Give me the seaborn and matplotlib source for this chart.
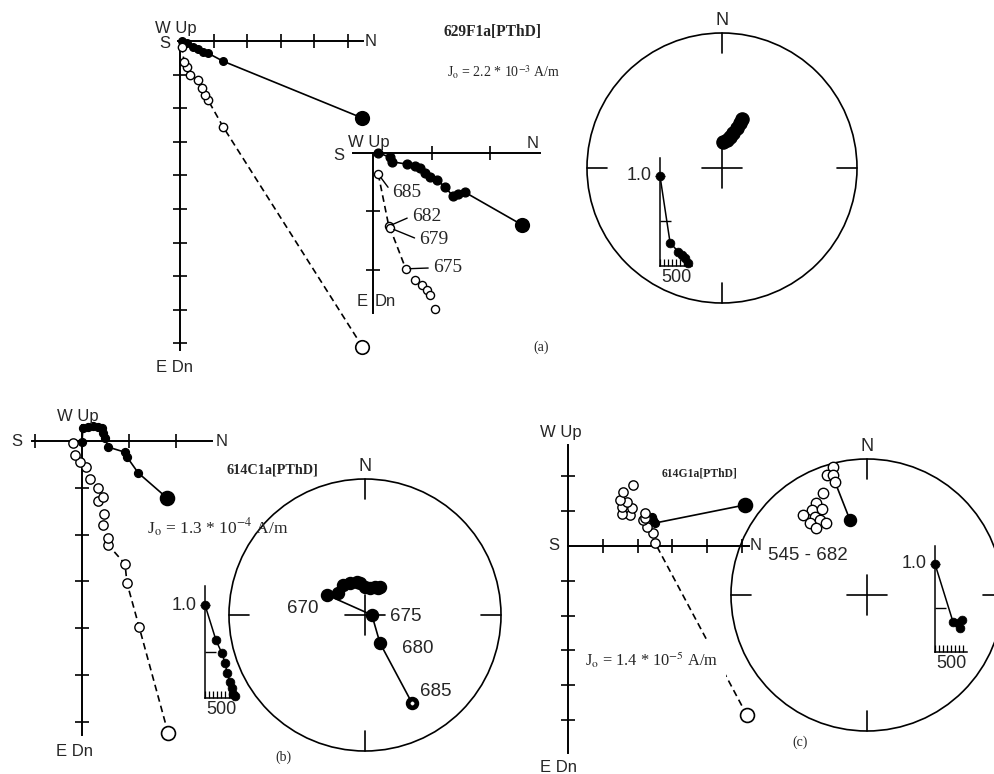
import numpy as np
import matplotlib
matplotlib.use("Agg")
import matplotlib.pyplot as plt
from matplotlib.patches import Circle
import seaborn as sns

# ---------------------------------------------------------------------------
# Orthogonal (Zijderveld) projections, in units of one axis tick.
# Horizontal plane: north vs east (solid symbols);
# vertical plane: north vs down (open symbols). Lists start at the NRM step.
# ---------------------------------------------------------------------------

# (a) 629F1a - full demagnetisation path
a_north_h = [5.42, 1.28, 0.83, 0.68, 0.54, 0.39, 0.20, 0.06]
a_east_h = [2.29, 0.60, 0.36, 0.33, 0.24, 0.18, 0.06, 0.00]
a_north_v = [5.43, 1.28, 0.83, 0.74, 0.65, 0.53, 0.30, 0.20, 0.12, 0.06]
a_down_v = [9.10, 2.55, 1.75, 1.60, 1.40, 1.16, 1.00, 0.77, 0.62, 0.18]

# (a) enlarged high-temperature part
a2_north_h = [2.55, 1.57, 1.45, 1.37, 1.23, 1.09, 0.97, 0.89, 0.80, 0.72, 0.58, 0.32, 0.29, 0.09]
a2_east_h = [1.23, 0.67, 0.70, 0.74, 0.58, 0.46, 0.41, 0.34, 0.26, 0.22, 0.19, 0.15, 0.07, 0.00]
a2_north_v = [0.09, 0.27, 0.29, 0.56, 0.72, 0.84, 0.92, 0.97, 1.06]
a2_down_v = [0.36, 1.25, 1.28, 1.98, 2.17, 2.26, 2.34, 2.43, 2.67]
a2_steps = ["685", "682", "679", "675"]

# (b) 614C1a
b_north_h = [1.82, 1.20, 0.96, 0.92, 0.56, 0.49, 0.45, 0.43, 0.34, 0.24, 0.13, 0.02, 0.00]
b_east_h = [1.22, 0.68, 0.34, 0.24, 0.13, -0.06, -0.17, -0.28, -0.30, -0.32, -0.30, -0.28, 0.02]
b_north_v = [1.84, 1.22, 0.96, 0.92, 0.56, 0.56, 0.45, 0.47, 0.34, 0.45, 0.34, 0.17, 0.09, -0.04, -0.15, -0.19]
b_down_v = [6.24, 3.97, 3.03, 2.63, 2.22, 2.07, 1.79, 1.56, 1.28, 1.20, 1.00, 0.81, 0.56, 0.45, 0.30, 0.04]

# (c) 614G1a
c_north_h = [5.09, 2.50, 2.44, 2.41]
c_east_h = [-1.18, -0.66, -0.75, -0.83]
c_north_v = [5.14, 2.50, 2.44, 2.27, 2.16, 2.21, 2.21, 1.78, 1.55, 1.84, 1.55, 1.70, 1.49, 1.58, 1.87]
c_down_v = [4.86, -0.09, -0.37, -0.55, -0.75, -0.80, -0.95, -0.89, -0.92, -1.09, -1.12, -1.26, -1.32, -1.55, -1.75]

# Directions on equal-area nets (declination, inclination in degrees)
sa_dec = [2.0, 10.0, 14.4, 17.4, 20.6, 21.8, 22.2]
sa_inc = [74.3, 72.9, 70.7, 67.8, 64.2, 60.6, 57.8]

sb_dec = [28.1, 25.7, 19.8, 10.5, 0.0, 351.1, 346.4, 334.9, 323.8, 309.1, 297.8, 90.0, 151.9, 151.9]
sb_inc = [71.0, 72.0, 72.2, 73.6, 73.2, 70.6, 69.6, 68.8, 67.6, 69.1, 64.2, 85.9, 71.0, 27.5]
sb_steps = ["670", "675", "680", "685"]

sc_dec = [345.1, 341.6, 344.2, 336.6, 331.0, 327.1, 332.4, 321.3, 326.4, 327.9, 321.6, 330.4, 322.7, 344.2, 347.2]
sc_inc = [-2.9, -7.8, -9.2, -19.4, -23.7, -26.5, -29.3, -25.6, -31.7, -35.2, -33.0, -38.9, -38.1, -14.7, 42.8]

# Normalised intensity decay (J/J0) against step temperature
da_temp = [500, 563, 613, 638, 656, 675]
da_int = [1.00, 0.26, 0.16, 0.12, 0.09, 0.03]
db_temp = [500, 569, 606, 625, 638, 656, 669, 675, 688]
db_int = [1.00, 0.62, 0.48, 0.38, 0.27, 0.17, 0.11, 0.04, 0.02]
dc_temp = [500, 613, 644, 656, 669]
dc_int = [1.00, 0.34, 0.33, 0.27, 0.36]

# ---------------------------------------------------------------------------
sns.set_theme(style="white")
SANS = ["Liberation Sans", "DejaVu Sans"]
SERIF = ["Liberation Serif", "DejaVu Serif"]
plt.rcParams["font.family"] = SANS
plt.rcParams["mathtext.fontset"] = "stix"

W, H = 994, 774
fig = plt.figure(figsize=(W / 100, H / 100), dpi=100)
fig.patch.set_facecolor("white")

DASH = (0, (4, 2.5))


def px_axes(left, top, width, height, z=1):
    ax = fig.add_axes([left / W, 1 - (top + height) / H, width / W, height / H], zorder=z)
    ax.set_facecolor("none")
    ax.grid(False)
    return ax


def ptext(x, y, s, ha="center", va="center", size=12, family=SANS, **kw):
    fig.text(x / W, 1 - y / H, s, ha=ha, va=va, fontsize=size, family=family, **kw)


def zij_axes(origin, unit, xlim, ylim, xbounds, ybounds, xticks, yticks, z=2):
    ox, oy = origin
    ax = px_axes(ox + xlim[0] * unit, oy + ylim[0] * unit,
                 (xlim[1] - xlim[0]) * unit, (ylim[1] - ylim[0]) * unit, z)
    ax.set_xlim(*xlim)
    ax.set_ylim(ylim[1], ylim[0])          # downward is positive
    for s in ("top", "right"):
        ax.spines[s].set_visible(False)
    for s in ("left", "bottom"):
        ax.spines[s].set_position(("data", 0))
        ax.spines[s].set_color("black")
        ax.spines[s].set_linewidth(1.4)
    ax.spines["bottom"].set_bounds(*xbounds)
    ax.spines["left"].set_bounds(*ybounds)
    ax.set_xticks(xticks)
    ax.set_yticks(yticks)
    ax.tick_params(direction="inout", length=10, width=1.2, color="black",
                   bottom=True, left=True, labelbottom=False, labelleft=False)
    ax.set_xlabel("")
    ax.set_ylabel("")
    return ax


def draw_path(ax, x, y, filled, big=None, s=25, s_big=85, dashed=False, n_line=None):
    k = len(x) if n_line is None else n_line
    if k > 1:
        sns.lineplot(x=x[:k], y=y[:k], sort=False, estimator=None, color="black", lw=1.2,
                     linestyle=DASH if dashed else "-", ax=ax, legend=False, zorder=2)
    face = "black" if filled else "white"
    small = [i for i in range(len(x)) if i != big]
    sns.scatterplot(x=[x[i] for i in small], y=[y[i] for i in small], s=s, color=face,
                    edgecolor="black", linewidth=1.0, ax=ax, legend=False, zorder=3)
    if big is not None:
        sns.scatterplot(x=[x[big]], y=[y[big]], s=s_big, color=face, edgecolor="black",
                        linewidth=1.2, ax=ax, legend=False, zorder=3)
    ax.set_xlabel("")
    ax.set_ylabel("")


def unclip(ax):
    for art in list(ax.collections) + list(ax.lines):
        art.set_clip_on(False)


def project(dec, inc):
    d = np.radians(np.asarray(dec, float))
    i = np.radians(np.abs(np.asarray(inc, float)))
    r = np.sqrt(2) * np.sin((np.pi / 2 - i) / 2)
    return r * np.sin(d), r * np.cos(d)


def stereo_axes(center, R):
    cx, cy = center
    pad = 1.3
    ax = px_axes(cx - pad * R, cy - pad * R, 2 * pad * R, 2 * pad * R, z=1)
    ax.set_xlim(-pad, pad)
    ax.set_ylim(-pad, pad)
    ax.axis("off")
    ax.add_patch(Circle((0, 0), 1, fill=False, ec="black", lw=1.2))
    t = 0.15
    kw = dict(color="black", lw=1.2)
    ax.plot([0, 0], [1, 1 - t], **kw)
    ax.plot([0, 0], [-1, -1 + t], **kw)
    ax.plot([1, 1 - t], [0, 0], **kw)
    ax.plot([-1, -1 + t], [0, 0], **kw)
    ax.plot([-t, t], [0, 0], **kw)
    ax.plot([0, 0], [-t, t], **kw)
    ax.text(0, 1.03, "N", ha="center", va="bottom", fontsize=13, family=SANS)
    return ax


def stereo_points(ax, dec, inc, s=60, line_idx=None):
    x, y = project(dec, inc)
    if line_idx is not None:
        sns.lineplot(x=x[line_idx], y=y[line_idx], sort=False, estimator=None, color="black",
                     lw=1.2, ax=ax, legend=False, zorder=2)
    inc = np.asarray(inc)
    down = inc >= 0
    if down.any():
        sns.scatterplot(x=x[down], y=y[down], s=s, color="black", edgecolor="black",
                        linewidth=1.0, ax=ax, legend=False, zorder=3)
    if (~down).any():
        sns.scatterplot(x=x[~down], y=y[~down], s=s * 0.75, color="white", edgecolor="black",
                        linewidth=1.0, ax=ax, legend=False, zorder=3)
    ax.set_xlabel("")
    ax.set_ylabel("")
    return x, y


def decay_axes(x0, y0, unit, temp, inten, width=32):
    ax = px_axes(x0, y0 - 1.3 * unit, width, 1.3 * unit, z=3)
    ax.set_xlim(500, 700)
    ax.set_ylim(0, 1.3)
    for s in ("top", "right"):
        ax.spines[s].set_visible(False)
    for s in ("left", "bottom"):
        ax.spines[s].set_color("black")
        ax.spines[s].set_linewidth(1.1)
    ax.spines["left"].set_bounds(0, 1.2)
    ax.spines["bottom"].set_bounds(500, 700)
    ax.set_yticks([1.0])
    ax.set_yticks([0.5], minor=True)
    ax.set_xticks(np.arange(500, 700, 25))
    ax.tick_params(axis="y", which="major", direction="inout", length=7, width=1.0,
                   color="black", left=True, labelleft=False)
    ax.tick_params(axis="y", which="minor", direction="in", length=8, width=1.0,
                   color="black", left=True)
    ax.tick_params(axis="x", direction="in", length=5, width=0.9, color="black",
                   bottom=True, labelbottom=False)
    sns.lineplot(x=temp, y=inten, sort=False, estimator=None, color="black", lw=1.1,
                 ax=ax, legend=False, zorder=2)
    sns.scatterplot(x=temp, y=inten, s=40, color="black", edgecolor="black",
                    ax=ax, legend=False, zorder=3)
    ax.set_xlabel("")
    ax.set_ylabel("")
    ax.annotate("1.0", xy=(500, 1.0), xytext=(-6, 0), textcoords="offset points",
                ha="right", va="center", fontsize=13, family=SANS)
    ax.annotate("500", xy=(600, 0), xytext=(0, -2), textcoords="offset points",
                ha="center", va="top", fontsize=13, family=SANS)
    unclip(ax)
    return ax


# ------------------------------- panel (a) -------------------------------
ax = zij_axes((180, 41), 33.6, (-0.8, 6.0), (-0.8, 9.6), (-0.06, 5.45), (0, 9.2),
              [1, 2, 3, 4, 5], list(range(1, 10)))
draw_path(ax, a_north_h, a_east_h, True, big=0, s=30, s_big=95)
draw_path(ax, a_north_v, a_down_v, False, big=0, s=36, s_big=95, dashed=True)
unclip(ax)
ptext(155, 28, "W Up", ha="left")
ptext(165, 43, "S")
ptext(371, 41, "N")
ptext(174, 367, "E Dn")

ax = zij_axes((373, 153), 58.5, (-0.5, 3.0), (-0.4, 3.0), (-0.34, 2.86), (0, 2.74),
              [1, 2], [1, 2], z=3)
draw_path(ax, a2_north_h, a2_east_h, True, big=0, s=40, s_big=95)
draw_path(ax, a2_north_v, a2_down_v, False, s=34, dashed=True, n_line=4)
unclip(ax)
offsets = [(10, -13.5), (16.5, 7.2), (21, -8.6), (19.5, 0.7)]
for lab, (dx, dy), xi, yi in zip(a2_steps, offsets, a2_north_v, a2_down_v):
    ax.annotate(lab, xy=(xi, yi), xytext=(dx, dy), textcoords="offset points",
                ha="left", va="center", fontsize=14, family=SERIF,
                arrowprops=dict(arrowstyle="-", color="black", lw=1.0,
                                shrinkA=1, shrinkB=3, relpos=(0, 0.5)))
ptext(339, 155, "S")
ptext(348, 143, "W Up", ha="left")
ptext(533, 143, "N")
ptext(362, 302, "E")
ptext(375, 302, "Dn", ha="left")

ptext(493, 32, "629F1a[PThD]", size=11.2, family=SERIF, weight="bold")
ptext(504, 72, r"J$_{\rm o}$ = 2.2 * 10$^{-3}$ A/m", size=10, family=SERIF)
ptext(541, 347, "(a)", size=10, family=SERIF)

sax = stereo_axes((722, 168), 135)
stereo_points(sax, sa_dec, sa_inc, s=90)
decay_axes(660, 266, 90, da_temp, da_int)

# ------------------------------- panel (b) -------------------------------
ax = zij_axes((82, 441), 46.8, (-1.4, 3.0), (-0.8, 6.6), (-1.07, 2.78), (-0.34, 6.28),
              [-1, 1, 2], [1, 2, 3, 4, 5, 6])
draw_path(ax, b_north_h, b_east_h, True, big=0, s=32, s_big=100)
draw_path(ax, b_north_v, b_down_v, False, big=0, s=45, s_big=100, dashed=True, n_line=6)
unclip(ax)
ptext(17, 441, "S")
ptext(222, 441, "N")
ptext(57, 417, "W Up", ha="left")
ptext(74, 752, "E Dn")
ptext(272, 470, "614C1a[PThD]", size=10.3, family=SERIF, weight="bold")
ptext(147, 528, r"J$_{\rm o}$ = 1.3 * 10$^{-4}$ A/m", ha="left", size=12.5, family=SERIF)
ptext(283, 757, "(b)", size=10, family=SERIF)

sax = stereo_axes((365, 615), 136)
n = len(sb_dec)
px, py = stereo_points(sax, sb_dec, sb_inc, s=75, line_idx=list(range(n)))
sns.scatterplot(x=[px[-1]], y=[py[-1]], s=6, color="white", edgecolor="white",
                ax=sax, legend=False, zorder=4)
step_idx = [n - 4, n - 3, n - 2, n - 1]
step_off = [(-6, -9.4, "right"), (13, -1.4, "left"), (16, -3.6, "left"), (6, 8, "left")]
for lab, i, (dx, dy, ha) in zip(sb_steps, step_idx, step_off):
    sax.annotate(lab, xy=(px[i], py[i]), xytext=(dx, dy), textcoords="offset points",
                 ha=ha, va="center", fontsize=13.5, family=SANS)
decay_axes(205, 698, 93, db_temp, db_int)

# ------------------------------- panel (c) -------------------------------
ax = zij_axes((568, 546), 34.8, (-0.6, 5.6), (-3.2, 6.3), (0, 5.2), (-2.9, 5.95),
              [1, 2, 3, 4, 5], [-2, -1, 1, 2, 3, 4, 5])
draw_path(ax, c_north_h, c_east_h, True, big=0, s=32, s_big=100)
draw_path(ax, c_north_v, c_down_v, False, big=0, s=45, s_big=100, dashed=True, n_line=2)
unclip(ax)
ptext(554, 546, "S")
ptext(756, 546, "N")
ptext(540, 433, "W Up", ha="left")
ptext(540, 768, "E Dn", ha="left")
ptext(700, 473, "614G1a[PThD]", size=8.4, family=SERIF, weight="bold")
ptext(585, 660, r"J$_{\rm o}$ = 1.4 * 10$^{-5}$ A/m", ha="left", size=11.8, family=SERIF,
      bbox=dict(boxstyle="square,pad=0.5", fc="white", ec="none"), zorder=5)
ptext(800, 742, "(c)", size=10, family=SERIF)

sax = stereo_axes((867, 595), 136)
stereo_points(sax, sc_dec, sc_inc, s=75, line_idx=[len(sc_dec) - 2, len(sc_dec) - 1])
ptext(768, 555, "545 - 682", ha="left", size=13.5)
decay_axes(935, 652, 88, dc_temp, dc_int)

fig.savefig("out.png", dpi=100, facecolor="white")
